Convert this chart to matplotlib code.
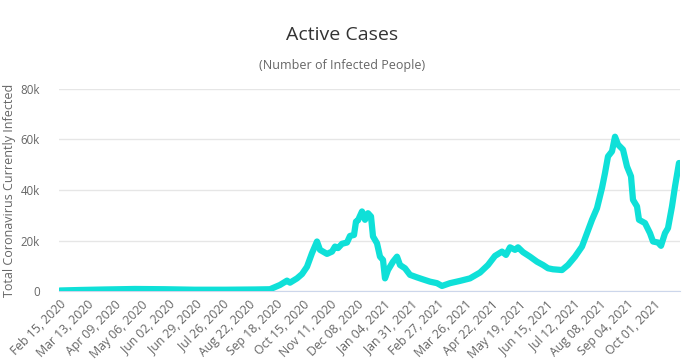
import pandas as pd
import matplotlib.pyplot as plt

# day offsets from Feb 15, 2020 and active cases
start_date = "2020-02-15"
days = [0, 20, 45, 75, 105, 135, 165, 195, 210, 220, 227, 230, 237, 242, 247,
        252, 257, 260, 267, 272, 275, 278, 282, 287, 290, 294, 296, 298, 302,
        305, 308, 311, 313, 317, 320, 323, 325, 328, 333, 337, 340, 345, 350,
        357, 363, 370, 377, 382, 390, 400, 410, 420, 428, 435, 442, 446, 450,
        455, 458, 463, 470, 477, 483, 488, 493, 502, 508, 515, 522, 527, 532,
        537, 542, 545, 548, 552, 555, 558, 563, 567, 571, 573, 577, 579, 585,
        590, 593, 598, 601, 605, 608, 612, 615, 619]
active = [200, 400, 600, 800, 700, 500, 500, 600, 700, 2400, 4100, 3300, 5000,
          6700, 9600, 15000, 19600, 16300, 14700, 15600, 17600, 17000, 18700,
          19200, 21800, 22200, 27500, 28000, 31500, 28200, 30800, 29500, 21600,
          18900, 13600, 12300, 5000, 8300, 11600, 13600, 10300, 9000, 6400,
          5400, 4600, 3700, 3100, 2000, 3100, 4000, 5000, 7300, 10300, 13900,
          15600, 14300, 17300, 16300, 17300, 15400, 13600, 11600, 10300, 9000,
          8600, 8300, 10300, 13600, 17600, 22900, 28200, 32800, 40800, 46700,
          53300, 55300, 61100, 58000, 56000, 49300, 45400, 36100, 33500, 28200,
          26900, 22900, 19600, 19200, 17900, 22900, 24900, 33500, 41400, 50700]
y_ticks = [0, 20000, 40000, 60000, 80000]
y_labels = ["0", "20k", "40k", "60k", "80k"]
tick_step = 27

W, H = 699, 360
fig = plt.figure(figsize=(W / 100, H / 100), dpi=100)
ax = fig.add_axes([59.5 / W, 1 - 291 / H, 620 / W, 202 / H])

ax.plot(days, active, color="#0fe0d8", lw=4.5, solid_joinstyle="round",
        solid_capstyle="round", zorder=3)

ax.set_xlim(-0.5, 619.5)
ax.set_ylim(0, 80000)

tick_pos = list(range(0, 595, tick_step))
tick_dates = pd.Timestamp(start_date) + pd.to_timedelta(tick_pos, unit="D")
ax.set_xticks(tick_pos)
ax.set_xticklabels([d.strftime("%b %d, %Y") for d in tick_dates],
                   rotation=45, ha="right", rotation_mode="anchor",
                   fontsize=8.8, color="#666666", family="Open Sans")
ax.tick_params(axis="x", length=0, pad=5)

ax.set_yticks(y_ticks)
ax.set_yticklabels(y_labels, fontsize=8.3, color="#666666", family="Open Sans")
ax.tick_params(axis="y", length=0, pad=14)

ax.grid(axis="y", color="#e6e6e6", lw=1)
ax.set_axisbelow(True)
for side in ["top", "right", "left"]:
    ax.spines[side].set_visible(False)
ax.spines["bottom"].set_color("#ccd6eb")
ax.spines["bottom"].set_zorder(2)

ax.set_ylabel("Total Coronavirus Currently Infected", fontsize=9,
              color="#666666", family="Open Sans")
ax.yaxis.set_label_coords(-43 / 620, 0.5)

fig.text(342 / W, 1 - 35 / H, "Active Cases", ha="center", va="center",
         fontsize=14, color="#333333", family="Open Sans")
fig.text(342 / W, 1 - 66 / H, "(Number of Infected People)", ha="center",
         va="center", fontsize=9, color="#666666", family="Open Sans")

fig.savefig("out.png", dpi=100)
